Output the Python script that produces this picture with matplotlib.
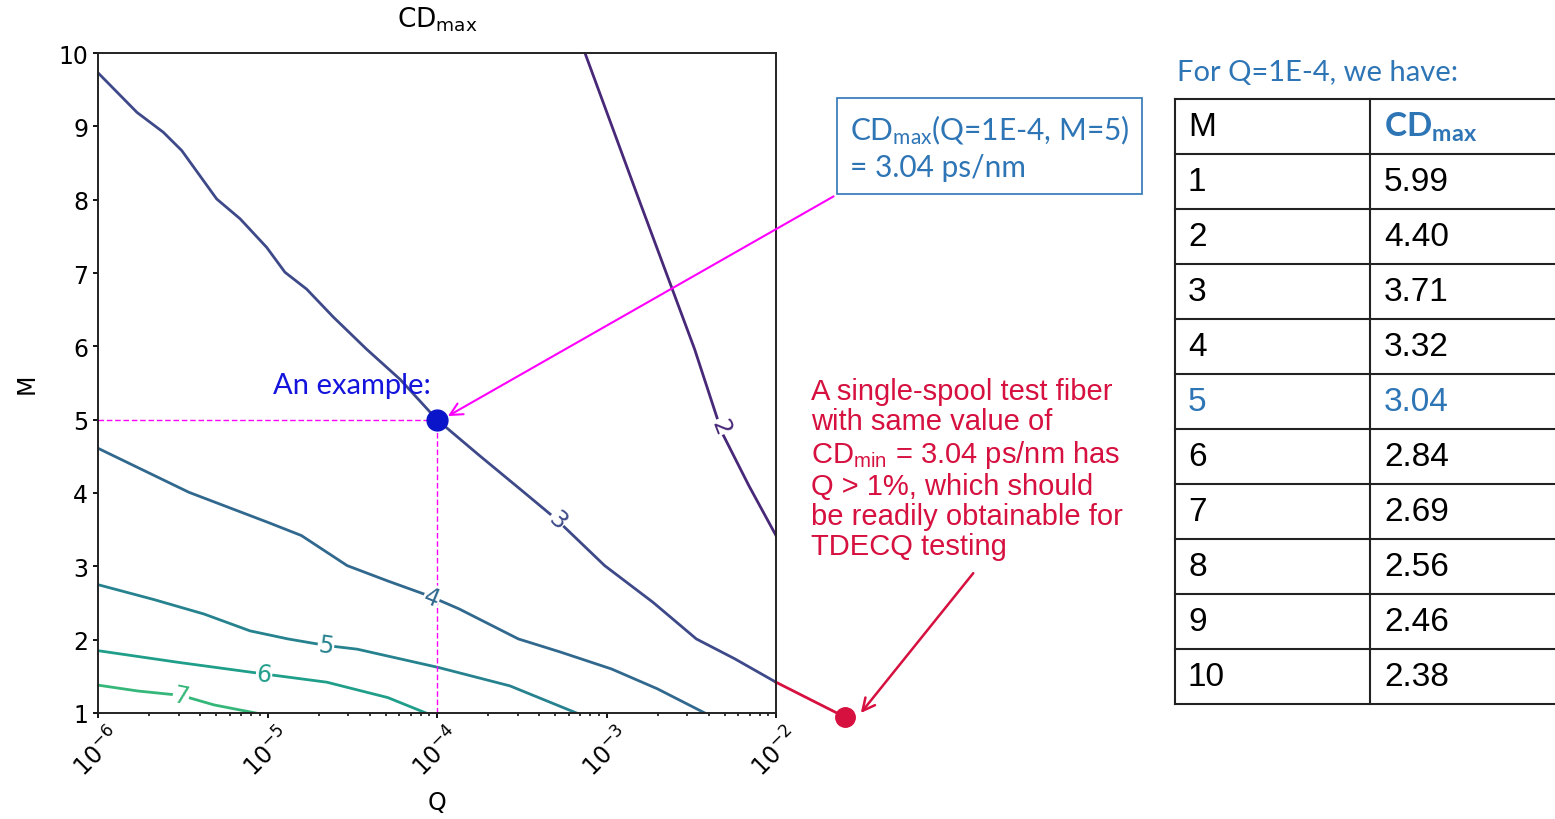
import numpy as np
import matplotlib
matplotlib.use('Agg')
from matplotlib import pyplot as plt

plt.rcParams['mathtext.default'] = 'regular'

# contour lines of CD_max: log10(Q) and M
contours = {
    2: ([-3.127, -2.81, -2.48, -2.32, -2.16, -2.0],
        [10.0, 8.01, 5.96, 4.83, 4.10, 3.42]),
    3: ([-6.0, -5.77, -5.615, -5.506, -5.30, -5.162, -5.005, -4.897, -4.769, -4.612,
         -4.415, -4.218, -4.0, -3.749, -3.508, -3.30, -3.011, -2.726, -2.47, -2.244, -2.0],
        [9.73, 9.19, 8.92, 8.67, 8.01, 7.74, 7.35, 7.01, 6.78, 6.40,
         5.96, 5.55, 5.0, 4.51, 4.05, 3.65, 3.01, 2.51, 2.01, 1.74, 1.42]),
    4: ([-6.0, -5.464, -4.998, -4.80, -4.53, -4.29, -4.05, -3.87, -3.52, -3.27, -2.97, -2.70, -2.42],
        [4.61, 4.01, 3.60, 3.42, 3.01, 2.80, 2.60, 2.42, 2.01, 1.83, 1.60, 1.33, 1.0]),
    5: ([-6.0, -5.675, -5.375, -5.103, -4.879, -4.652, -4.47, -3.99, -3.57, -3.177],
        [2.75, 2.55, 2.35, 2.12, 2.01, 1.92, 1.87, 1.62, 1.37, 1.0]),
    6: ([-6.0, -5.524, -5.013, -4.65, -4.29, -4.065],
        [1.85, 1.69, 1.53, 1.42, 1.21, 1.0]),
    7: ([-6.0, -5.765, -5.51, -5.315, -5.07],
        [1.38, 1.30, 1.24, 1.11, 1.0]),
}
# where the inline labels sit (log10 Q)
label_logq = {2: -2.33, 3: -3.29, 4: -4.03, 5: -4.655, 6: -5.02, 7: -5.51}

example_q = 1e-4
example_m = 5
test_q = 0.0255
test_m = 0.945

table_m = [1, 2, 3, 4, 5, 6, 7, 8, 9, 10]
table_cd = [5.99, 4.40, 3.71, 3.32, 3.04, 2.84, 2.69, 2.56, 2.46, 2.38]

W, H = 1555, 820
blue = '#2e75b6'
red = '#d6103f'
magenta = '#ff00ff'


def fp(x, y):
    # picture pixel -> figure fraction
    return x / W, 1 - y / H


fig = plt.figure(figsize=(W / 100, H / 100), dpi=100)
ax = fig.add_axes([98 / W, 1 - 714 / H, (776 - 98) / W, (714 - 54) / H])
ax.set_xscale('log')
ax.set_xlim(1e-6, 1e-2)
ax.set_ylim(1, 10)
ax.set_yticks(range(1, 11))
ax.tick_params(labelsize=17, width=1.3)
ax.tick_params(which='minor', width=1.1)
for sp in ax.spines.values():
    sp.set_linewidth(1.4)
    sp.set_color('#222222')
plt.setp(ax.get_xticklabels(), rotation=45)
ax.set_xlabel('Q', fontsize=17, labelpad=6)
ax.set_ylabel('M', fontsize=17, labelpad=14)
ax.set_title(r'CD$_{max}$', fontsize=19, pad=19)

cmap = plt.get_cmap('viridis')
for lvl, (lq, m) in contours.items():
    q = 10.0 ** np.array(lq)
    col = cmap((lvl - 1) / 9)
    ax.plot(q, m, color=col, lw=2)
    # inline label, rotated along the line
    lx = label_logq[lvl]
    ly = np.interp(lx, lq, m)
    p1 = ax.transData.transform((10 ** (lx - 0.05), np.interp(lx - 0.05, lq, m)))
    p2 = ax.transData.transform((10 ** (lx + 0.05), np.interp(lx + 0.05, lq, m)))
    ang = np.degrees(np.arctan2(p2[1] - p1[1], p2[0] - p1[0]))
    ax.text(10 ** lx, ly, str(lvl), color=col, fontsize=17, rotation=ang,
            rotation_mode='anchor', ha='center', va='center',
            bbox=dict(facecolor='white', edgecolor='none', pad=0.5))

# the example point
ax.plot([1e-6, example_q], [example_m, example_m], color=magenta, ls=(0, (4, 2)), lw=1)
ax.plot([example_q, example_q], [1, example_m], color=magenta, ls=(0, (4, 2)), lw=1)
ax.plot(example_q, example_m, 'o', color='#0a14c8', ms=15, zorder=5)
ax.text(10 ** -4.5, 5.47, 'An example:', color='#1414dc', fontsize=21,
        family='Lato', ha='center', va='center')

# test fiber point outside the axes
ax.plot([1e-2, test_q], [contours[3][1][-1], test_m], color=red, lw=2, clip_on=False)
ax.plot(test_q, test_m, 'o', color=red, ms=14, clip_on=False, zorder=5)

# box with the example value
fig.text(*fp(850, 148), 'CD$_{max}$(Q=1E-4, M=5)\n= 3.04 ps/nm', color=blue,
         fontsize=21.5, family='Lato', va='center', linespacing=1.3,
         bbox=dict(facecolor='white', edgecolor=blue, lw=1.2, pad=9))
ax.annotate('', xy=(10 ** -3.95, 5.03), xycoords='data',
            xytext=fp(836, 196), textcoords='figure fraction',
            annotation_clip=False,
            arrowprops=dict(arrowstyle='->', color=magenta, lw=1.5,
                            mutation_scale=22))

# red explanation
red_lines = ['A single-spool test fiber', 'with same value of',
             'CD$_{min}$ = 3.04 ps/nm has', 'Q > 1%, which should',
             'be readily obtainable for', 'TDECQ testing']
fig.text(*fp(811, 378), '\n'.join(red_lines), color=red, fontsize=21,
         family='Liberation Sans', va='top', ha='left', linespacing=1.1)
ax.annotate('', xy=(10 ** -1.51, 0.97), xycoords='data',
            xytext=fp(975, 572), textcoords='figure fraction',
            annotation_clip=False,
            arrowprops=dict(arrowstyle='->', color=red, lw=1.8,
                            mutation_scale=22))

# table on the right
fig.text(*fp(1177, 73), 'For Q=1E-4, we have:', color=blue, fontsize=21,
         family='Lato', va='center')
row_h = 55
top = 100
x0, xmid, x1 = 1175, 1370, 1560
for i in range(len(table_m) + 2):
    y = top + i * row_h
    fig.add_artist(plt.Line2D([x0 / W, x1 / W], [1 - y / H] * 2, color='#222222', lw=1.5))
for x in (x0, xmid):
    fig.add_artist(plt.Line2D([x / W] * 2, [1 - top / H, 1 - (top + 11 * row_h) / H],
                              color='#222222', lw=1.5))
fig.text(*fp(1188, top + row_h / 2), 'M', fontsize=24, family='Liberation Sans',
         va='center', color='black')
fig.text(*fp(1384, top + row_h / 2), 'CD$_{max}$', fontsize=24, family='Lato',
         weight='bold', va='center', color=blue)
for i, (m, cd) in enumerate(zip(table_m, table_cd)):
    yc = top + (i + 1.5) * row_h
    col = blue if m == example_m else 'black'
    fig.text(*fp(1188, yc), str(m), fontsize=24, family='Liberation Sans',
             va='center', color=col)
    fig.text(*fp(1384, yc), f'{cd:.2f}', fontsize=24, family='Liberation Sans',
             va='center', color=col)

fig.savefig('out.png', dpi=100)
